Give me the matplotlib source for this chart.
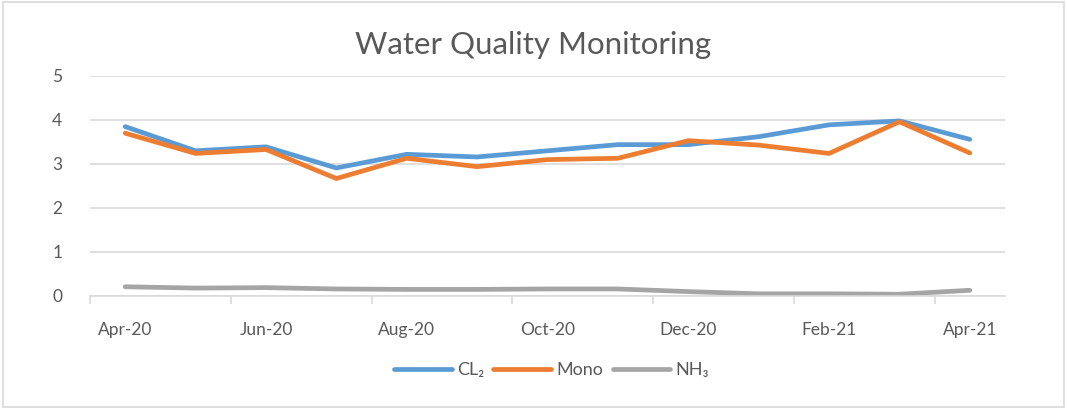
import numpy as np
import matplotlib
matplotlib.use('Agg')
import matplotlib.pyplot as plt
from matplotlib.patches import Rectangle

plt.rcParams['font.family'] = ['Lato', 'DejaVu Sans']

# Data
months = ['Apr-20', 'May-20', 'Jun-20', 'Jul-20', 'Aug-20', 'Sep-20', 'Oct-20',
          'Nov-20', 'Dec-20', 'Jan-21', 'Feb-21', 'Mar-21', 'Apr-21']
cl2 = [3.85, 3.30, 3.39, 2.91, 3.22, 3.16, 3.30, 3.44, 3.44, 3.62, 3.89, 3.98, 3.56]
mono = [3.70, 3.24, 3.33, 2.67, 3.13, 2.94, 3.10, 3.13, 3.53, 3.43, 3.24, 3.96, 3.25]
nh3 = [0.21, 0.18, 0.19, 0.16, 0.15, 0.15, 0.16, 0.16, 0.10, 0.05, 0.05, 0.04, 0.13]

txt = '#595959'
grid = '#D9D9D9'

fig = plt.figure(figsize=(10.67, 4.09), dpi=100)
ax = fig.add_axes([90/1067, 113/409, 915/1067, 220/409])

x = np.arange(len(months))
ax.plot(x, cl2, color='#5B9BD5', lw=3.4, solid_capstyle='round', label='CL\u2082')
ax.plot(x, mono, color='#ED7D31', lw=3.4, solid_capstyle='round', label='Mono')
ax.plot(x, nh3, color='#A5A5A5', lw=3.4, solid_capstyle='round', label='NH\u2083')

ax.set_xlim(-0.5, len(months) - 0.5)
ax.set_ylim(0, 5)
ax.set_yticks(range(6))
ax.yaxis.grid(True, color=grid, lw=1.2)
ax.set_axisbelow(True)
for s in ['top', 'right', 'left']:
    ax.spines[s].set_visible(False)
ax.spines['bottom'].set_color(grid)
ax.spines['bottom'].set_linewidth(1.2)

ax.set_xticks(x[::2])
ax.set_xticklabels(months[::2])
ax.set_xticks(np.arange(-0.5, len(months), 2), minor=True)
ax.tick_params(axis='x', which='major', length=0, pad=19, labelsize=12.5, labelcolor=txt)
ax.tick_params(axis='x', which='minor', length=6, color=grid, width=1.2)
ax.tick_params(axis='y', length=0, pad=20, labelsize=12.5, labelcolor=txt)

fig.text(0.5, 0.89, 'Water Quality Monitoring', ha='center', va='center',
         fontsize=22.5, color=txt)

leg = fig.legend(loc='center', bbox_to_anchor=(0.517, 0.095), ncol=3, frameon=False,
                 fontsize=13, handlelength=3.2, columnspacing=0.5, handletextpad=0.3)
for t in leg.get_texts():
    t.set_color(txt)

fig.add_artist(Rectangle((0.003, 0.004), 0.994, 0.992, transform=fig.transFigure,
                         fill=False, edgecolor=grid, lw=1.2))

fig.savefig('out.png', dpi=100)
